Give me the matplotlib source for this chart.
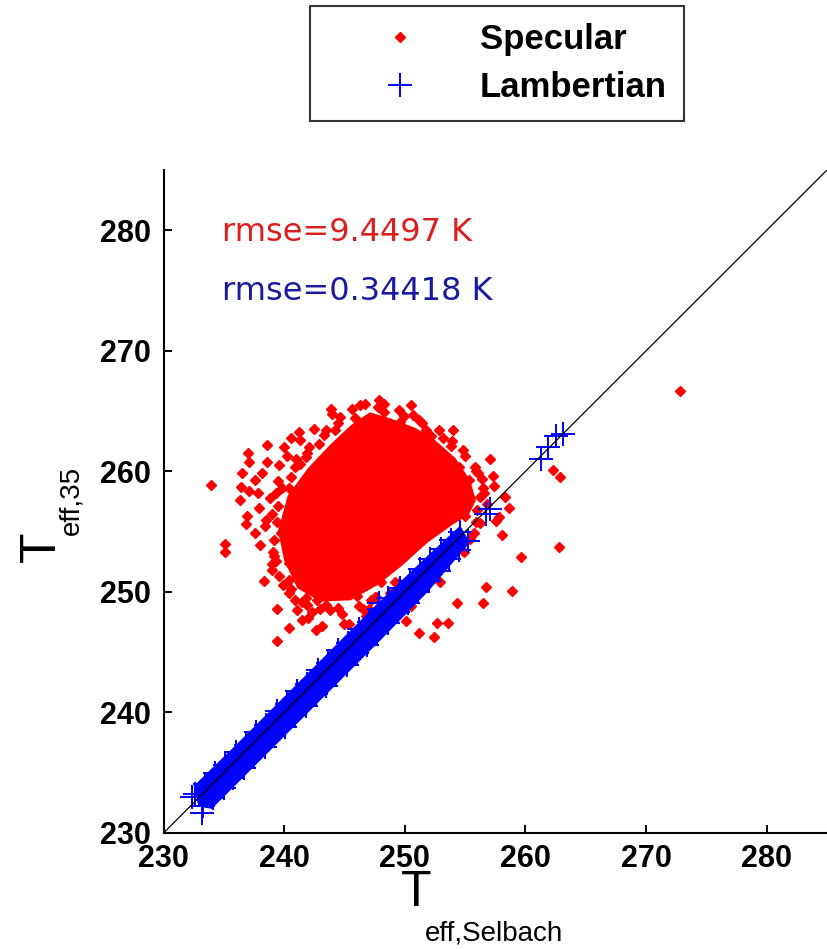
import matplotlib
matplotlib.use('Agg')
import matplotlib.pyplot as plt
from matplotlib import font_manager

# ---- data ----
axis_lim = [230, 285]
ticks = [230, 240, 250, 260, 270, 280]

# dense core of the specular cloud (outline)
spec_core_x = [239.5, 240.3, 242.0, 243.8, 245.5, 247.1, 248.8, 250.9, 252.5, 254.2,
               255.4, 255.9, 255.3, 254.0, 251.9, 249.8, 247.8, 245.5, 243.0, 241.1,
               240.0]
spec_core_y = [255.1, 258.0, 260.3, 262.2, 263.8, 264.9, 264.4, 263.6, 262.6, 261.1,
               259.3, 257.6, 256.4, 255.6, 254.1, 252.2, 250.6, 249.3, 249.2, 250.3,
               252.6]

# scattered specular points
spec_x = [245.6, 244.2, 241.3, 242.1, 241.8, 237.1, 239.6, 240.9, 236.5, 238.2,
          237.6, 233.9, 236.4, 237.1, 240.4, 239.3, 236.3, 239.5, 241.5, 242.4,
          243.4, 243.1, 247.9, 248.3, 249.6, 250.7, 251.4, 252.2, 253.8, 257.1,
          255.9, 256.4, 255.3, 256.2, 254.6, 248.7, 250.2, 251.3, 252.9, 254.5,
          253.4, 238.4, 237.6, 239.7, 235.1, 235.1, 240.6, 239.1, 239.3, 240.4,
          240.4, 241.3, 240.4, 240.9, 242.7, 241.9, 243.5, 241.1, 241.5, 243.1,
          240.4, 239.4, 244.1, 244.9, 246.0, 258.1, 259.6, 256.7, 258.9, 256.5,
          254.3, 252.9, 252.7, 253.6, 251.2, 252.4, 250.5, 254.9, 255.4, 248.0,
          247.6, 262.3, 262.9, 262.8, 258.3, 258.6, 272.8,
          244.5, 246.3, 247.8, 249.5, 251.8, 253.2, 254.8, 255.8, 256.5, 256.8,
          255.9, 239.0, 238.8, 239.5, 240.2, 241.0, 242.5, 243.3, 238.0, 239.0,
          239.6, 239.2, 238.5, 237.9, 241.5, 242.3, 243.8, 244.8, 246.2, 247.2,
          248.8, 249.5, 250.8, 251.9, 253.0, 256.2, 255.7, 257.4, 257.8, 244.0,
          246.8, 250.0, 252.0, 237.0, 238.6, 240.6, 242.0, 245.0, 247.0, 236.8,
          239.2, 239.4, 239.8, 240.6, 241.3, 239.0, 239.9, 241.9, 242.9, 243.5,
          244.6, 245.9, 246.7, 248.3, 249.9, 251.2, 252.8, 253.9, 255.0, 256.1,
          256.6, 256.0, 255.0, 250.8, 249.2, 247.5, 246.5, 244.5, 243.0, 241.8,
          240.6, 237.8, 238.6, 240.0, 241.2, 243.9, 250.5, 254.0, 257.3, 257.6,
          236.9, 238.3, 239.4, 242.6, 245.4, 250.1]
spec_y = [265.2, 263.4, 262.6, 262.0, 261.2, 260.8, 260.5, 260.4, 259.9, 259.9,
          259.3, 258.9, 258.7, 258.4, 258.6, 258.2, 257.6, 257.1, 258.3, 259.3,
          259.7, 258.4, 265.9, 264.9, 264.1, 264.7, 264.0, 262.9, 262.1, 261.0,
          260.0, 259.4, 259.3, 257.9, 256.9, 261.6, 261.6, 262.0, 260.9, 260.4,
          259.5, 255.5, 254.9, 254.9, 254.0, 253.3, 254.6, 253.3, 252.6, 252.4,
          251.0, 250.8, 249.9, 249.3, 249.3, 248.9, 248.9, 248.5, 247.7, 247.2,
          247.0, 245.9, 250.8, 250.1, 249.7, 254.7, 252.9, 250.4, 250.1, 249.1,
          249.1, 250.8, 247.4, 247.4, 246.6, 246.3, 248.8, 253.3, 254.4, 250.8,
          249.6, 260.1, 259.5, 253.7, 257.9, 257.0, 266.7,
          264.0, 265.5, 265.3, 265.1, 263.4, 262.8, 261.8, 260.4, 258.6, 257.3,
          255.8, 256.5, 257.8, 259.2, 261.3, 261.0, 263.5, 263.0, 253.9, 252.3,
          251.3, 254.3, 256.0, 257.0, 249.2, 248.3, 248.5, 248.2, 248.8, 249.3,
          249.9, 250.7, 250.8, 252.0, 253.2, 255.7, 254.9, 258.8, 256.2, 264.8,
          248.0, 249.8, 251.4, 261.5, 262.2, 262.8, 247.8, 247.3, 248.6, 255.6,
          253.0, 255.8, 258.6, 259.5, 260.6, 251.8, 250.6, 261.5, 262.3, 263.4,
          264.5, 264.4, 265.6, 265.6, 264.6, 264.3, 263.4, 262.5, 261.3, 259.9,
          258.2, 256.8, 256.3, 251.5, 250.8, 249.6, 248.6, 248.7, 248.6, 249.5,
          250.2, 258.2, 260.8, 262.0, 263.3, 265.2, 265.5, 263.4, 259.6, 255.9,
          256.3, 250.9, 248.6, 246.8, 247.3, 247.6]

# dense core of the lambertian band (outline)
lamb_core_x = [232.5, 236.0, 240.0, 244.0, 248.0, 252.0, 254.6,
               255.4, 252.0, 248.0, 244.0, 240.0, 236.0, 234.0, 232.9]
lamb_core_y = [233.9, 237.3, 241.3, 245.3, 249.3, 253.1, 255.5,
               254.1, 250.1, 246.0, 242.0, 238.0, 234.0, 232.0, 232.2]

# lambertian points (band edges and outliers)
lamb_x = [232.6, 233.4, 234.3, 235.1, 236.0, 236.8, 237.7, 238.5, 239.4, 240.2,
          241.1, 241.9, 242.8, 243.6, 244.5, 245.3, 246.2, 247.0, 247.9, 248.7,
          249.6, 250.4, 251.3, 252.1, 253.0, 253.8, 254.6,
          233.3, 234.1, 235.0, 235.8, 236.7, 237.5, 238.4, 239.2, 240.1, 240.9,
          241.8, 242.6, 243.5, 244.3, 245.2, 246.0, 246.9, 247.7, 248.6, 249.4,
          250.3, 251.1, 252.0, 252.8, 253.7, 254.5, 255.2,
          232.4, 233.2, 247.9, 248.6, 249.3, 256.7, 257.1, 261.3, 261.9, 262.5, 263.1]
lamb_y = [233.2, 234.1, 235.0, 235.6, 236.7, 237.3, 238.4, 239.0, 240.1, 240.7,
          241.8, 242.4, 243.5, 244.1, 245.2, 245.8, 246.9, 247.5, 248.6, 249.2,
          250.3, 250.9, 251.9, 252.7, 253.6, 254.3, 255.0,
          232.2, 232.9, 233.7, 234.6, 235.4, 236.4, 237.1, 238.1, 238.8, 239.8,
          240.5, 241.5, 242.2, 243.2, 243.9, 244.9, 245.6, 246.6, 247.4, 248.3,
          249.1, 250.0, 250.9, 251.7, 252.7, 253.5, 254.2,
          233.0, 231.7, 249.1, 249.5, 249.0, 256.5, 256.9, 261.0, 262.0, 262.9, 263.1]

rmse_spec = 'rmse=9.4497 K'
rmse_lamb = 'rmse=0.34418 K'

# ---- fonts ----
names = {f.name for f in font_manager.fontManager.ttflist}
narrow = 'Liberation Sans Narrow' if 'Liberation Sans Narrow' in names else 'Liberation Sans'

W, H = 827, 949

def fx(px):
    return px / W

def fy(py):
    return 1 - py / H

fig = plt.figure(figsize=(W / 100, H / 100), dpi=100)
ax = fig.add_axes([fx(163.5), fy(833), fx(827 - 163.5), (833 - 170) / H])

ax.fill(spec_core_x, spec_core_y, color='red', lw=0, zorder=2)
ax.plot(spec_x, spec_y, 'D', ls='none', ms=4.8, color='red', zorder=2, label='Specular')
ax.fill(lamb_core_x, lamb_core_y, color='blue', lw=0, zorder=3)
ax.plot(lamb_x, lamb_y, '+', ls='none', ms=17, mew=1.4, color='blue', zorder=3,
        label='Lambertian')
ax.plot(axis_lim, axis_lim, '-', color='k', lw=0.9, zorder=5)

ax.text(234.85, 279.8, rmse_spec, color='#dc1e1e', fontsize=23, va='center',
        family='DejaVu Sans')
ax.text(234.85, 274.9, rmse_lamb, color='#1a1aa0', fontsize=23, va='center',
        family='DejaVu Sans')

ax.set_xlim(axis_lim)
ax.set_ylim(axis_lim)
ax.set_xticks(ticks)
ax.set_yticks(ticks)
ax.tick_params(direction='in', length=6, width=1.4, labelsize=22, pad=8)
ax.tick_params(axis='y', pad=9)
for lab in ax.get_xticklabels() + ax.get_yticklabels():
    lab.set_family(narrow)
    lab.set_weight('bold')
ax.spines['top'].set_visible(False)
ax.spines['right'].set_visible(False)
ax.spines['left'].set_linewidth(1.5)
ax.spines['bottom'].set_linewidth(1.5)

# axis labels, drawn as big T with a dropped subscript
fig.text(fx(401), fy(906), 'T', fontsize=36, family=narrow, ha='left', va='baseline')
fig.text(fx(425), fy(940), 'eff,Selbach', fontsize=20, family=narrow, ha='left',
         va='baseline')
fig.text(fx(55), fy(562), 'T', fontsize=36, family=narrow, ha='left', va='baseline',
         rotation=90, rotation_mode='anchor')
fig.text(fx(78), fy(535), 'eff,35', fontsize=20, family=narrow, ha='left',
         va='baseline', rotation=90, rotation_mode='anchor')

leg = fig.legend(loc='upper left', bbox_to_anchor=(fx(310), fy(6)),
                 prop={'family': 'Liberation Sans', 'weight': 'bold', 'size': 25},
                 frameon=True, fancybox=False, edgecolor='k', borderpad=0.5,
                 handlelength=4.17, handletextpad=0.22, labelspacing=0.42,
                 borderaxespad=0)
leg.get_frame().set_linewidth(1.5)

fig.savefig('out.png', dpi=100)
